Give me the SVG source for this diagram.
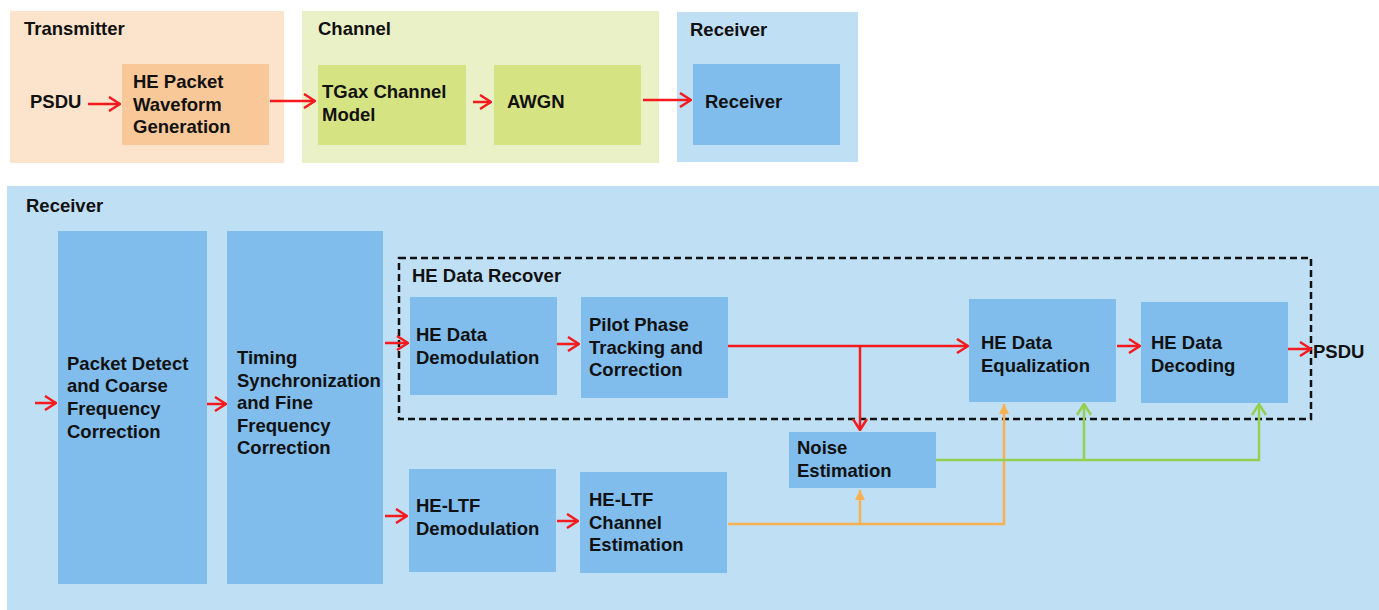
<svg xmlns="http://www.w3.org/2000/svg" width="1379" height="610" viewBox="0 0 1379 610">
<defs>
<style>
text{font-family:"Liberation Sans",Arial,sans-serif;font-weight:bold;font-size:18.5px;fill:#111}
.panelT{fill:#FCE4CC}
.panelC{fill:#EBF1C6}
.panelR{fill:#BFDFF5}
.blkT{fill:#F9C898}
.blkC{fill:#D6E383}
.blkR{fill:#80BDEC}
.red{stroke:#F51A1E;stroke-width:2.5;fill:none}
.org{stroke:#F9B04E;stroke-width:2.5;fill:none}
.grn{stroke:#92D050;stroke-width:2.5;fill:none}
</style>
<marker id="ar" viewBox="0 0 13 16" refX="12" refY="8" markerWidth="13" markerHeight="16" markerUnits="userSpaceOnUse" orient="auto">
<path d="M1,1 L12,8 L1,15" fill="none" stroke="#F51A1E" stroke-width="2.5"/>
</marker>
<marker id="ao" viewBox="0 0 12 12" refX="11" refY="6" markerWidth="12" markerHeight="12" markerUnits="userSpaceOnUse" orient="auto">
<path d="M1,1 L11,6 L1,11 Z" fill="#F9B04E"/>
</marker>
<marker id="ag" viewBox="0 0 13 16" refX="12" refY="8" markerWidth="13" markerHeight="16" markerUnits="userSpaceOnUse" orient="auto">
<path d="M1,1 L12,8 L1,15" fill="none" stroke="#92D050" stroke-width="2.5"/>
</marker>
</defs>
<rect width="1379" height="610" fill="#ffffff"/>

<g id="transmitter">
<rect class="panelT" x="10" y="11" width="274" height="152"/>
<text x="24" y="35">Transmitter</text>
<text x="30" y="108">PSDU</text>
</g>
<g id="he-packet">
<rect class="blkT" x="122" y="64" width="147" height="81"/>
<text x="133" y="88">HE Packet</text>
<text x="133" y="111">Waveform</text>
<text x="133" y="133">Generation</text>
</g>
<g id="channel">
<rect class="panelC" x="302" y="11" width="357" height="152"/>
<text x="318" y="35">Channel</text>
</g>
<g id="tgax">
<rect class="blkC" x="318" y="65" width="148" height="80"/>
<text x="322" y="98">TGax Channel</text>
<text x="322" y="121">Model</text>
</g>
<g id="awgn">
<rect class="blkC" x="494" y="65" width="147" height="80"/>
<text x="507" y="108">AWGN</text>
</g>
<g id="receiver-top">
<rect class="panelR" x="677" y="12" width="181" height="150"/>
<text x="690" y="36">Receiver</text>
</g>
<g id="receiver-block">
<rect class="blkR" x="693" y="64" width="147" height="81"/>
<text x="705" y="108">Receiver</text>
</g>

<g id="receiver-panel">
<rect class="panelR" x="7" y="186" width="1372" height="424"/>
<text x="26" y="212">Receiver</text>
</g>
<g id="packet-detect">
<rect class="blkR" x="58" y="231" width="149" height="353"/>
<text x="67" y="370">Packet Detect</text>
<text x="67" y="392">and Coarse</text>
<text x="67" y="415">Frequency</text>
<text x="67" y="438">Correction</text>
</g>
<g id="timing">
<rect class="blkR" x="227" y="231" width="156" height="353"/>
<text x="237" y="364">Timing</text>
<text x="237" y="387">Synchronization</text>
<text x="237" y="409">and Fine</text>
<text x="237" y="432">Frequency</text>
<text x="237" y="454">Correction</text>
</g>
<g id="he-data-recover">
<rect x="399" y="258" width="912" height="161" fill="none" stroke="#111" stroke-width="2.5" stroke-dasharray="7,4"/>
<text x="412" y="282">HE Data Recover</text>
</g>
<g id="he-data-demod">
<rect class="blkR" x="410" y="297" width="147" height="98"/>
<text x="416" y="341">HE Data</text>
<text x="416" y="364">Demodulation</text>
</g>
<g id="pilot">
<rect class="blkR" x="581" y="297" width="147" height="101"/>
<text x="589" y="331">Pilot Phase</text>
<text x="589" y="354">Tracking and</text>
<text x="589" y="376">Correction</text>
</g>
<g id="equalization">
<rect class="blkR" x="969" y="299" width="147" height="103"/>
<text x="981" y="349">HE Data</text>
<text x="981" y="372">Equalization</text>
</g>
<g id="decoding">
<rect class="blkR" x="1141" y="302" width="147" height="101"/>
<text x="1151" y="349">HE Data</text>
<text x="1151" y="372">Decoding</text>
</g>
<g id="psdu-out">
<text x="1313" y="358">PSDU</text>
</g>
<g id="noise">
<rect class="blkR" x="789" y="432" width="147" height="56"/>
<text x="797" y="454">Noise</text>
<text x="797" y="477">Estimation</text>
</g>
<g id="heltf-demod">
<rect class="blkR" x="409" y="469" width="147" height="103"/>
<text x="416" y="512">HE-LTF</text>
<text x="416" y="535">Demodulation</text>
</g>
<g id="heltf-chan">
<rect class="blkR" x="580" y="472" width="147" height="101"/>
<text x="589" y="506">HE-LTF</text>
<text x="589" y="529">Channel</text>
<text x="589" y="551">Estimation</text>
</g>

<g id="connectors">
<line class="red" x1="88" y1="104" x2="120" y2="104" marker-end="url(#ar)"/>
<line class="red" x1="270" y1="101" x2="315" y2="101" marker-end="url(#ar)"/>
<line class="red" x1="473" y1="102" x2="491" y2="102" marker-end="url(#ar)"/>
<line class="red" x1="643" y1="100" x2="691" y2="100" marker-end="url(#ar)"/>
<line class="red" x1="35" y1="403" x2="56" y2="403" marker-end="url(#ar)"/>
<line class="red" x1="207" y1="404" x2="226" y2="404" marker-end="url(#ar)"/>
<line class="red" x1="385" y1="343" x2="408" y2="343" marker-end="url(#ar)"/>
<line class="red" x1="385" y1="516" x2="407" y2="516" marker-end="url(#ar)"/>
<line class="red" x1="557" y1="344" x2="579" y2="344" marker-end="url(#ar)"/>
<line class="red" x1="557" y1="521" x2="578" y2="521" marker-end="url(#ar)"/>
<line class="red" x1="728" y1="346" x2="968" y2="346" marker-end="url(#ar)"/>
<line class="red" x1="860" y1="346" x2="860" y2="430" marker-end="url(#ar)"/>
<line class="red" x1="1117" y1="346" x2="1140" y2="346" marker-end="url(#ar)"/>
<line class="red" x1="1288" y1="349" x2="1311" y2="349" marker-end="url(#ar)"/>
<polyline class="org" points="728,524 1004,524 1004,404" marker-end="url(#ao)"/>
<line class="org" x1="860" y1="524" x2="860" y2="490" marker-end="url(#ao)"/>
<polyline class="grn" points="936,460 1259,460 1259,404" marker-end="url(#ag)"/>
<line class="grn" x1="1084" y1="460" x2="1084" y2="404" marker-end="url(#ag)"/>
</g>
</svg>
